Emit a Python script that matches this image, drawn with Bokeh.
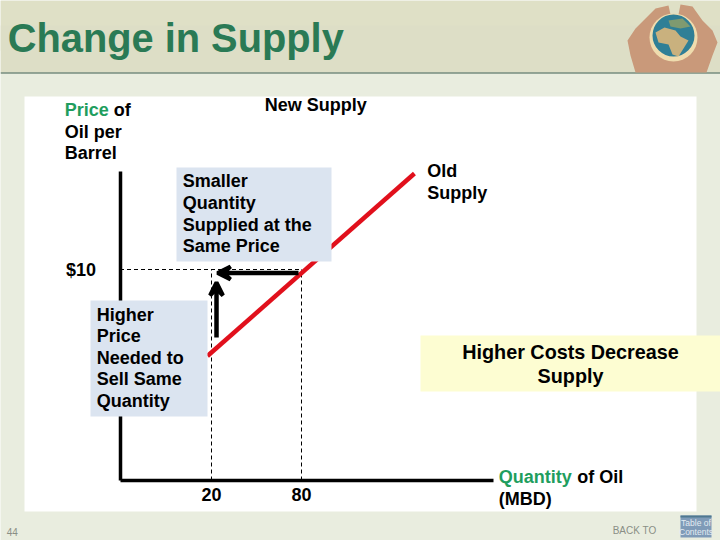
from bokeh.plotting import figure
from bokeh.models import Range1d, LinearAxis, FixedTicker, Arrow, VeeHead
from bokeh.core.properties import value
from bokeh.embed import file_html
from bokeh.resources import INLINE

# ---- chart values ----
quantity_ticks = [20, 80]
price_ticks = [10]
price_tick_labels = {10: "$10"}
supply_quantity = [17.3, 155.3]
supply_price = [5.9, 14.55]
axis_quantity = [-41, 207.7]
axis_price = [0, 14.65]
equilibrium_price = 10

title = "Change in Supply"
box_smaller = ["Smaller", "Quantity", "Supplied at the", "Same Price"]
box_higher = ["Higher", "Price", "Needed to", "Sell Same", "Quantity"]
box_costs = ["Higher Costs Decrease", "Supply"]

FONT = value("Liberation Sans")
GREEN = "#1f9e5e"

# pixel scale of the slide for layout; data scale for the chart itself
PX_L, PX_R, PX_T, PX_B = 0, 720, 0, 540
def qx(px): return 20 + (px - 211) / 1.5
def py(px): return 10 * (480 - px) / 211

p = figure(width=720, height=540, output_backend="svg", toolbar_location=None,
           x_axis_type=None, y_axis_type=None,
           x_range=Range1d(qx(PX_L), qx(PX_R)), y_range=Range1d(py(PX_B), py(PX_T)),
           min_border=0, outline_line_color=None, background_fill_color="#e9eddf",
           border_fill_color="#e9eddf")
p.grid.visible = False
p.extra_x_ranges["px"] = Range1d(PX_L, PX_R)
p.extra_y_ranges["px"] = Range1d(PX_B, PX_T)
PX = dict(x_range_name="px", y_range_name="px")

def box(l, r, t, b, color, level="glyph"):
    p.quad(left=[l], right=[r], top=[t], bottom=[b], fill_color=color, line_color=None, level=level, **PX)

def txt(x, y, s, size=18.0, color="black", style="bold", align="left"):
    dx = -0.8 if align == "left" else 0
    p.text(x=[x + dx], y=[y - 1], text=[s], text_font=FONT, text_font_size=f"{size}px", text_font_style=style,
           text_color=color, text_align=align, text_baseline="middle", **PX)

# slide furniture
box(0, 720, 0, 50, "#dfe0c6", "image")
box(0, 720, 25, 72, "#dddec6", "image")
box(0, 720, 72, 73, "#3f5f50", "image")
box(24, 696, 96, 511, "white", "image")

# hands and globe
p.patch([627, 635, 645, 655, 668, 670, 678, 680, 692, 702, 712, 717, 712, 706, 635, 630],
        [40, 28, 18, 8, 5, 14, 14, 4, 6, 20, 30, 42, 55, 72, 72, 55],
        fill_color="#c9997a", line_color=None, **PX)
p.circle(x=[673], y=[37], radius=24, radius_units="screen", fill_color="#efdcae", line_color=None, **PX)
p.circle(x=[673], y=[35], radius=21, radius_units="screen", fill_color="#2f7f96", line_color=None, **PX)
p.patch([655, 664, 675, 680, 688, 683, 678, 672, 668, 658],
        [32, 27, 30, 36, 40, 48, 56, 54, 44, 42], fill_color="#c9b17e", line_color=None, **PX)
p.patch([668, 682, 690, 680, 670], [20, 18, 26, 28, 26], fill_color="#7f9a70", line_color=None, **PX)

# axes (through the library's scales)
x_ax = LinearAxis(ticker=FixedTicker(ticks=quantity_ticks), fixed_location=0, bounds=tuple(axis_quantity),
                  axis_line_width=3.5, axis_line_color="black", major_tick_line_color=None,
                  minor_tick_line_color=None, major_label_standoff=1,
                  major_label_text_font="Liberation Sans", major_label_text_font_size="18px",
                  major_label_text_font_style="bold", major_label_text_color="black", level="underlay")
y_ax = LinearAxis(ticker=FixedTicker(ticks=price_ticks), fixed_location=axis_quantity[0], bounds=tuple(axis_price),
                  axis_line_width=3.5, axis_line_color="black", major_tick_line_color=None,
                  minor_tick_line_color=None, major_label_standoff=18,
                  major_label_overrides=price_tick_labels,
                  major_label_text_font="Liberation Sans", major_label_text_font_size="18px",
                  major_label_text_font_style="bold", major_label_text_color="black", level="underlay")
p.add_layout(x_ax, "below")
p.add_layout(y_ax, "left")

# dashed guides
for q in quantity_ticks:
    p.line([q, q], [0, equilibrium_price], line_color="black", line_width=1, line_dash="4 3")
p.line([axis_quantity[0], quantity_ticks[1]], [equilibrium_price, equilibrium_price],
       line_color="black", line_width=1, line_dash="4 3")

# supply curve
p.line(supply_quantity, supply_price, line_color="#e1101c", line_width=4.5)

# arrows
for xs, ys, xe, ye in [(298, 272.5, 217, 272.5), (216, 337, 216, 282)]:
    p.add_layout(Arrow(x_start=xs, y_start=ys, x_end=xe, y_end=ye, line_color="black", line_width=4.5,
                       end=VeeHead(size=13, line_color="black", line_width=4, fill_color="black"), **PX))

# callout boxes
box(176, 331, 167, 261, "#dbe4f0")
box(90, 207, 300, 416, "#dbe4f0")
box(420, 720, 335, 391, "#fdfdd2")

# texts
txt(8, 38, title, size=39.8, color="#2a7a55")
txt(65, 110, "Price", color=GREEN)
txt(114, 110, "of")
txt(65, 132, "Oil per")
txt(65, 153, "Barrel")
txt(265, 105, "New Supply")
for s, y in zip(box_smaller, [181, 203, 225, 246]):
    txt(183, y, s)
txt(427.5, 171, "Old")
txt(427.5, 193, "Supply")
for s, y in zip(box_higher, [315, 336.5, 358, 379.5, 401]):
    txt(97, y, s)
for s, y in zip(box_costs, [352, 376]):
    txt(570, y, s, size=19.8, align="center")
txt(499, 477, "Quantity", color=GREEN)
txt(577.5, 477, "of Oil")
txt(499, 499, "(MBD)")
txt(7, 532, "44", size=10, color="#8a8f86", style="normal")
txt(613, 531, "BACK TO", size=10, color="#8a8f86", style="normal")
box(680, 711, 515, 537, "#7f9bb8")
box(680, 711, 515, 517, "#4f7890")
txt(695.5, 523, "Table of", size=8.5, color="#e4ebf2", style="normal", align="center")
txt(695.5, 532, "Contents", size=8.5, color="#e4ebf2", style="normal", align="center")

open("out.html", "w").write(file_html(p, INLINE))
